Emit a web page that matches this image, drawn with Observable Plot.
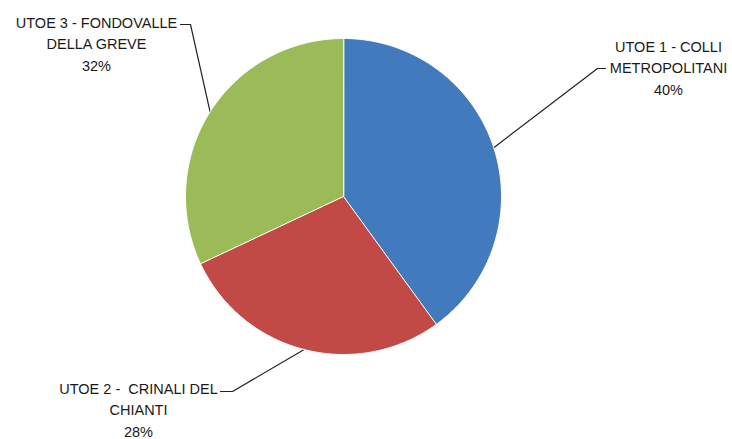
<!DOCTYPE html>
<html>
<head>
<meta charset="utf-8">
<script src="https://cdn.jsdelivr.net/npm/d3@7"></script>
<script src="https://cdn.jsdelivr.net/npm/@observablehq/plot@0.6"></script>
<style>
  html, body { margin: 0; padding: 0; background: #fff; }
  #chart { width: 732px; height: 439px; }
</style>
</head>
<body>
<div id="chart"></div>
<script>
// ---- data ----
const categories = ["UTOE 1 - COLLI METROPOLITANI", "UTOE 2 -  CRINALI DEL CHIANTI", "UTOE 3 - FONDOVALLE DELLA GREVE"];
const labelLines = ["UTOE 1 - COLLI\nMETROPOLITANI", "UTOE 2 -  CRINALI DEL\nCHIANTI", "UTOE 3 - FONDOVALLE\nDELLA GREVE"];
const values = [40, 28, 32];
const colors = ["#427BBD", "#C14A46", "#9BBB59"];

// ---- layout (pixel space) ----
const W = 732, H = 439;
const cx = 343, cy = 196, R = 158;
const labelPos = [[668, 66], [138, 408], [96, 42]];
const leaderElbow = [[597, 68], [232, 391], [190, 24]];
const leaderEnd = [[605, 68], [220, 391], [180, 24]];

const total = d3.sum(values);
const arcs = d3.pie().sort(null).value(d => d)(values);
const pt = (a, r) => [cx + r * Math.sin(a), cy - r * Math.cos(a)];

// slice polygons derived from pie angles
const slicePts = [];
arcs.forEach((a, i) => {
  slicePts.push({name: categories[i], x: cx, y: cy});
  const n = Math.max(2, Math.ceil((a.endAngle - a.startAngle) / 0.01));
  for (let k = 0; k <= n; k++) {
    const ang = a.startAngle + (a.endAngle - a.startAngle) * k / n;
    const [x, y] = pt(ang, R);
    slicePts.push({name: categories[i], x, y});
  }
});

// leader lines
const leaders = [];
arcs.forEach((a, i) => {
  const mid = (a.startAngle + a.endAngle) / 2;
  const [x0, y0] = pt(mid, R);
  leaders.push({name: categories[i], x: x0, y: y0});
  leaders.push({name: categories[i], x: leaderElbow[i][0], y: leaderElbow[i][1]});
  leaders.push({name: categories[i], x: leaderEnd[i][0], y: leaderEnd[i][1]});
});

const labels = categories.map((c, i) => ({
  name: c,
  text: labelLines[i] + "\n" + Math.round(values[i] / total * 100) + "%",
  x: labelPos[i][0], y: labelPos[i][1]
}));

const chart = Plot.plot({
  width: W, height: H,
  margin: 0,
  x: {domain: [0, W], axis: null},
  y: {domain: [H, 0], axis: null},
  color: {domain: categories, range: colors},
  style: {fontFamily: "'Liberation Sans', Arial, sans-serif", background: "#fff"},
  marks: [
    Plot.line(leaders, {x: "x", y: "y", z: "name", stroke: "#222", strokeWidth: 1.2}),
    Plot.line(slicePts, {x: "x", y: "y", z: "name", fill: "name", stroke: "#fff", strokeWidth: 1, curve: "linear-closed"}),
    Plot.text(labels, {x: "x", y: "y", text: "text", textAnchor: "middle", lineAnchor: "middle",
      lineHeight: 1.47, fontSize: 14.5, fill: "#1a1a1a"})
  ]
});
document.getElementById("chart").appendChild(chart);
</script>
</body>
</html>
